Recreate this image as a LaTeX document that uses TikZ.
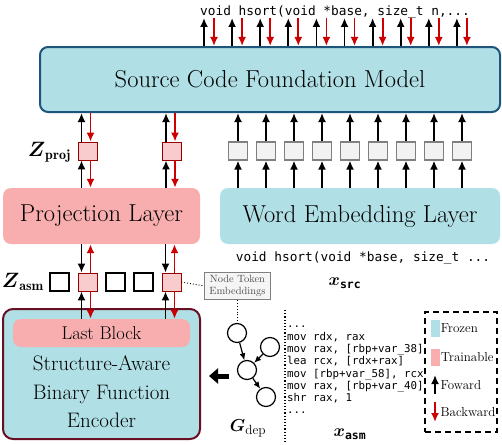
\documentclass[tikz,border=0pt]{standalone}
\usepackage{amsmath,amssymb}
\usepackage{fontspec}
\newfontfamily\codefont{DejaVu Sans Mono}
\usetikzlibrary{arrows.meta,positioning}
\definecolor{frozen}{RGB}{176,224,230}
\definecolor{trainable}{RGB}{248,174,174}
\definecolor{trainlite}{RGB}{248,204,204}
\definecolor{fmborder}{RGB}{30,85,125}
\definecolor{encborder}{RGB}{105,15,35}
\definecolor{bwdred}{RGB}{204,0,0}

\begin{document}
\begin{tikzpicture}[x=1pt,y=-1pt,
  layer/.style={rounded corners=8pt,align=center,font=\fontsize{24.5}{28}\selectfont},
  tok/.style={draw=gray,fill=gray!10,line width=1.2pt,minimum width=19pt,minimum height=18pt,inner sep=0pt},
  emb/.style={draw=red!60!black,fill=trainlite,line width=0.8pt,minimum width=19pt,minimum height=18pt,inner sep=0pt},
  blank/.style={draw,line width=1.2pt,minimum width=19pt,minimum height=18pt,inner sep=0pt},
  fwd/.style={-{Latex[length=9pt,width=8pt]},line width=1.8pt},
  bwd/.style={-{Latex[length=9pt,width=8pt]},line width=1.8pt,bwdred},
  code/.style={font=\codefont\fontsize{12.8}{14}\selectfont,inner sep=0pt}
]
\useasboundingbox (0,0) rectangle (502,444);

% foundation model and source text
\node[layer,draw=fmborder,line width=2pt,fill=frozen,minimum width=460pt,minimum height=65pt] (fm) at (270,79.5) {Source Code Foundation Model};
\node[code] (srctop) at (335,12) {void hsort(void *base, size\_t n,...};
\foreach \i in {0,...,9}{
  \coordinate (tu\i) at (204+28.1*\i,18);
  \coordinate (td\i) at (214+28.1*\i,18);
  \draw[fwd] (fm.north -| tu\i) -- (tu\i);
  \draw[bwd] (td\i) -- (fm.north -| td\i);
}

% projection branch
\node[layer,fill=trainable,minimum width=197pt,minimum height=56pt] (proj) at (101.5,216) {Projection Layer};
\node[emb] (zp1) at (87.5,151) {};
\node[emb] (zp2) at (172,151) {};
\node[anchor=east,inner sep=0pt] (zproj) at (71,152) {\fontsize{20}{22}\selectfont$\boldsymbol{Z}_{\mathrm{\mathbf{proj}}}$};
\foreach \b in {zp1,zp2}{
  \draw[fwd] ([xshift=-6pt]\b.north) -- ([xshift=-6pt]\b.north |- fm.south);
  \draw[bwd] ([xshift=3pt]\b.north |- fm.south) -- ([xshift=3pt]\b.north);
  \draw[fwd] ([xshift=-6pt]\b.south |- proj.north) -- ([xshift=-6pt]\b.south);
  \draw[bwd] ([xshift=3pt]\b.south) -- ([xshift=3pt]\b.south |- proj.north);
}

% word embedding branch
\node[layer,fill=frozen,minimum width=280pt,minimum height=56pt] (wemb) at (360,216) {Word Embedding Layer};
\foreach \i in {0,...,8}{
  \node[tok] (g\i) at (238+28*\i,151) {};
  \draw[fwd] (g\i.north) -- (g\i.north |- fm.south);
  \draw[fwd] (g\i.south |- wemb.north) -- (g\i.south);
}
\node[code] (srcbot) at (363,258) {void hsort(void *base, size\_t ...};
\node (xsrc) at (345,283) {\fontsize{19}{20}\selectfont$\boldsymbol{x}_{\text{\codefont\bfseries\fontsize{11.5}{12}\selectfont src}}$};

% assembly embeddings
\node[blank] (za1) at (59.5,282) {};
\node[emb] (za2) at (87.5,282) {};
\node[blank] (za3) at (115.5,282) {};
\node[blank] (za4) at (143.5,282) {};
\node[emb] (za5) at (171.5,282) {};
\node[anchor=east,inner sep=0pt] (zasm) at (44,282) {\fontsize{20}{22}\selectfont$\boldsymbol{Z}_{\mathrm{\mathbf{asm}}}$};
\node[draw=gray,line width=0.9pt,fill=gray!8,text=gray!60!black,align=center,inner sep=2pt,minimum width=66pt,minimum height=27pt,
  font=\fontsize{10.5}{12}\selectfont] (nte) at (237.5,286) {Node Token\\Embeddings};
\draw[dotted,line width=0.9pt] (za5.east) -- (nte.west);

% encoder
\node[draw=encborder,line width=2pt,fill=frozen,rounded corners=10pt,minimum width=197pt,minimum height=130pt] (enc) at (101.5,374) {};
\node[fill=trainable,rounded corners=8pt,minimum width=177pt,minimum height=28pt,font=\fontsize{18.5}{20}\selectfont] (last) at (101.5,333) {Last Block};
\node[align=center,font=\fontsize{21}{28.5}\selectfont] (enctext) at (101.5,392) {Structure-Aware\\Binary Function\\Encoder};
\foreach \b in {za2,za5}{
  \draw[fwd] ([xshift=-6pt]\b.south |- proj.south) -- ([xshift=-6pt]\b.north);
  \draw[bwd] ([xshift=3pt]\b.north) -- ([xshift=3pt]\b.north |- proj.south);
  \draw[fwd] ([xshift=-6pt]\b.south |- last.north) -- ([xshift=-6pt]\b.south);
  \draw[bwd] ([xshift=3pt]\b.south) -- ([xshift=3pt]\b.south |- last.north);
}

% dependency graph
\node[circle,draw,line width=1.2pt,minimum size=19pt,inner sep=0pt] (n1) at (237,333) {};
\node[circle,draw,line width=1.2pt,minimum size=19pt,inner sep=0pt] (n2) at (270,347) {};
\node[circle,draw,line width=1.2pt,minimum size=19pt,inner sep=0pt] (n3) at (247,370) {};
\node[circle,draw,line width=1.2pt,minimum size=19pt,inner sep=0pt] (n4) at (266,397) {};
\draw[-{Latex[length=7pt,width=6pt]},line width=1.2pt] (n1) -- (n3);
\draw[-{Latex[length=7pt,width=6pt]},line width=1.2pt] (n2) -- (n3);
\draw[-{Latex[length=7pt,width=6pt]},line width=1.2pt] (n3) -- (n4);
\draw[dotted,line width=0.9pt] (nte.south -| n1) -- (n1.north);
\node (gdep) at (248,428) {\fontsize{19}{20}\selectfont$\boldsymbol{G}_{\mathrm{dep}}$};
\coordinate (bigs) at (229,376);
\coordinate (bigt) at (209,376);
\draw[line width=5pt,-{Triangle[length=9pt,width=15pt]}] (bigs) -- (bigt);

% assembly code
\coordinate (sepa) at (285,310);
\coordinate (sepb) at (285,444);
\draw[dotted,line width=1.2pt] (sepa) -- (sepb);
\node[anchor=north west,align=left,inner sep=0pt,font=\codefont\fontsize{10.8}{12.3}\selectfont] (asm) at (287,326)
  {...\\mov rdx, rax\\mov rax, [rbp+var\_38]\\lea rcx, [rdx+rax]\\mov [rbp+var\_58], rcx\\mov rax, [rbp+var\_40]\\shr rax, 1\\...};
\node (xasm) at (350,434) {\fontsize{19}{20}\selectfont$\boldsymbol{x}_{\text{\codefont\bfseries\fontsize{11.5}{12}\selectfont asm}}$};

% legend
\node[draw,dashed,dash pattern=on 6pt off 4pt,line width=1.2pt,minimum width=72pt,minimum height=120pt] (legend) at (461,372) {};
\node[fill=frozen,minimum width=9pt,minimum height=17pt,inner sep=0pt] (lfz) at (435,328.5) {};
\node[anchor=west,inner sep=1pt,font=\fontsize{13}{14}\selectfont] (tfz) at (lfz.east) {Frozen};
\node[fill=trainable,minimum width=9pt,minimum height=17pt,inner sep=0pt] (ltr) at (435,357.5) {};
\node[anchor=west,inner sep=1pt,font=\fontsize{13}{14}\selectfont] (ttr) at (ltr.east) {Trainable};
\coordinate (lfa) at (435,394);
\coordinate (lfb) at (435,375);
\draw[fwd] (lfa) -- (lfb);
\node[anchor=west,inner sep=1pt,font=\fontsize{13}{14}\selectfont] (tfw) at (439.5,385) {Foward};
\coordinate (lba) at (435,402);
\coordinate (lbb) at (435,422);
\draw[bwd] (lba) -- (lbb);
\node[anchor=west,inner sep=1pt,font=\fontsize{13}{14}\selectfont] (tbw) at (439.5,412) {Backward};
\end{tikzpicture}
\end{document}
